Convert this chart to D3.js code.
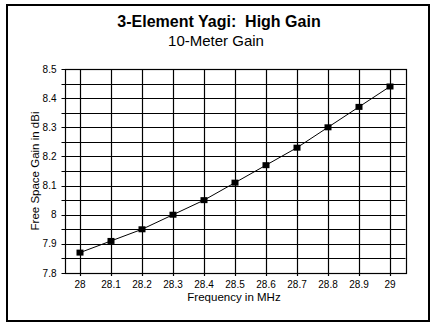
<!DOCTYPE html>
<html>
<head>
<meta charset="utf-8">
<script src="https://cdn.jsdelivr.net/npm/d3@7"></script>
<style>
  html, body { margin: 0; padding: 0; background: #fff; }
  svg { display: block; font-family: "Liberation Sans", Arial, sans-serif; }
  text { white-space: pre; }
</style>
</head>
<body>
<div id="chart"></div>
<script>
// 10-meter gain of the 3-element high-gain Yagi
const frequencies = [28, 28.1, 28.2, 28.3, 28.4, 28.5, 28.6, 28.7, 28.8, 28.9, 29];
const gains = [7.87, 7.91, 7.95, 8.00, 8.05, 8.11, 8.17, 8.23, 8.30, 8.37, 8.44];
const yTickLabels = ["7.8", "7.9", "8", "8.1", "8.2", "8.3", "8.4", "8.5"];

const titleText = "3-Element Yagi:  High Gain";
const subtitleText = "10-Meter Gain";
const xTitle = "Frequency in MHz";
const yTitle = "Free Space Gain in dBi";

const W = 435, H = 328;
const plot = {left: 64.5, right: 405.5, top: 69, bottom: 273};

const svg = d3.select("#chart").append("svg")
    .attr("width", W)
    .attr("height", H);

// outer frame
svg.append("rect")
    .attr("x", 7).attr("y", 5)
    .attr("width", 422).attr("height", 316)
    .attr("fill", "none")
    .attr("stroke", "#000")
    .attr("stroke-width", 2);

const x = d3.scaleLinear().domain([27.95, 29.05]).range([plot.left, plot.right]);
const y = d3.scaleLinear().domain([7.8, 8.5]).range([plot.bottom, plot.top]);

const yMinor = d3.range(0, 15).map(i => 7.8 + i * 0.05);
const yMajor = yTickLabels.map(Number);
const crisp = v => Math.round(v) + 0.5;

// horizontal grid every 0.05 dB, with short ticks on the left
svg.append("g")
    .selectAll("line")
    .data(yMinor)
    .join("line")
    .attr("x1", plot.left - 3)
    .attr("x2", plot.right)
    .attr("y1", d => crisp(y(d)))
    .attr("y2", d => crisp(y(d)))
    .attr("stroke", "#000")
    .attr("stroke-width", 1.2);

// vertical grid at each frequency step
svg.append("g")
    .selectAll("line")
    .data(frequencies)
    .join("line")
    .attr("x1", d => crisp(x(d)))
    .attr("x2", d => crisp(x(d)))
    .attr("y1", plot.top)
    .attr("y2", plot.bottom + 3)
    .attr("stroke", "#000")
    .attr("stroke-width", 1.2);

// plot border
svg.append("rect")
    .attr("x", crisp(plot.left)).attr("y", crisp(plot.top))
    .attr("width", Math.round(plot.right - plot.left))
    .attr("height", Math.round(plot.bottom - plot.top))
    .attr("fill", "none")
    .attr("stroke", "#000")
    .attr("stroke-width", 1.2);

// tick labels
svg.append("g")
    .selectAll("text")
    .data(yMajor)
    .join("text")
    .attr("x", plot.left - 8)
    .attr("y", d => y(d) + 3.5)
    .attr("text-anchor", "end")
    .attr("font-size", 10)
    .text((d, i) => yTickLabels[i]);

svg.append("g")
    .selectAll("text")
    .data(frequencies)
    .join("text")
    .attr("x", d => x(d))
    .attr("y", plot.bottom + 15)
    .attr("text-anchor", "middle")
    .attr("font-size", 10)
    .text(d => d3.format("")(d));

// gain curve
const pts = frequencies.map((f, i) => [f, gains[i]]);
svg.append("path")
    .datum(pts)
    .attr("fill", "none")
    .attr("stroke", "#000")
    .attr("stroke-width", 1)
    .attr("d", d3.line().x(d => x(d[0])).y(d => y(d[1])));

svg.append("g")
    .selectAll("rect")
    .data(pts)
    .join("rect")
    .attr("x", d => x(d[0]) - 3.5)
    .attr("y", d => y(d[1]) - 3)
    .attr("width", 7)
    .attr("height", 6)
    .attr("fill", "#000");

// titles
svg.append("text")
    .attr("x", 219).attr("y", 27)
    .attr("text-anchor", "middle")
    .attr("font-size", 16)
    .attr("font-weight", "bold")
    .text(titleText);

svg.append("text")
    .attr("x", 216).attr("y", 46)
    .attr("text-anchor", "middle")
    .attr("font-size", 15)
    .text(subtitleText);

svg.append("text")
    .attr("x", 234).attr("y", 301)
    .attr("text-anchor", "middle")
    .attr("font-size", 11.5)
    .text(xTitle);

svg.append("text")
    .attr("transform", `translate(39,${(plot.top + plot.bottom) / 2}) rotate(-90)`)
    .attr("text-anchor", "middle")
    .attr("font-size", 11.5)
    .text(yTitle);
</script>
</body>
</html>
